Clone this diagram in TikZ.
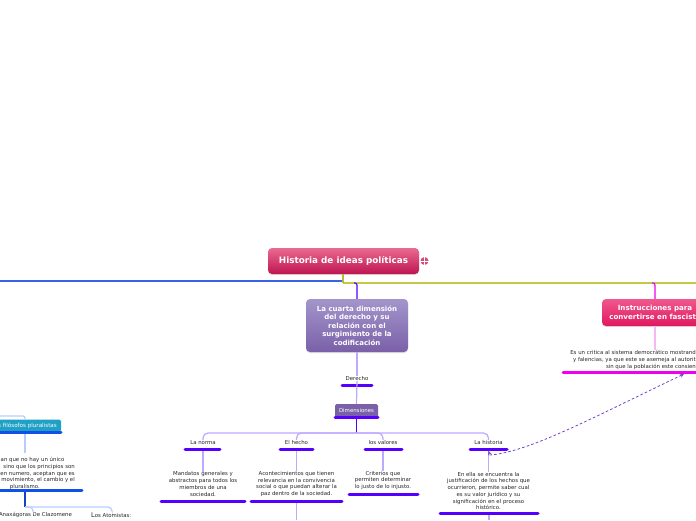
\documentclass[tikz,border=0pt]{standalone}
\usepackage{fontspec}
\setmainfont{DejaVu Sans}
\usetikzlibrary{shadows}
\definecolor{viol}{HTML}{5500FF}
\definecolor{lviol}{HTML}{BFA8FF}
\definecolor{mag}{HTML}{F000F0}
\definecolor{lmag}{HTML}{F4B8F4}
\definecolor{blu}{HTML}{1050E8}
\definecolor{lblu}{HTML}{B8CCFF}
\definecolor{rootA}{HTML}{EA6A92}
\definecolor{rootB}{HTML}{BE1450}
\definecolor{cuA}{HTML}{A395CB}
\definecolor{cuB}{HTML}{7A60A8}
\definecolor{inA}{HTML}{F0588E}
\definecolor{inB}{HTML}{E0185E}
\definecolor{leftline}{HTML}{3A62E8}
\definecolor{tanline}{HTML}{D8B860}
\definecolor{greenline}{HTML}{B0D830}
\definecolor{teal}{HTML}{1FA0C4}
\tikzset{
 x=1pt,y=-1pt,
 small/.style={font=\fontsize{5.4}{6.7}\selectfont,text=black!85,align=center,inner sep=0pt},
 bar/.style={line width=3pt,line cap=round,viol},
 conn/.style={line width=1.2pt,lviol},
 boxed/.style={rounded corners=4pt,text=white,align=center,inner sep=0pt,drop shadow={opacity=.25,shadow xshift=0pt,shadow yshift=-1pt}},
}
\begin{document}
\begin{tikzpicture}
\useasboundingbox (0,0) rectangle (696,520);
\clip (0,0) rectangle (696,520);
\coordinate (hub) at (343,281);
\coordinate (leftend) at (0,281);
\coordinate (rightend) at (696,282);
\coordinate (botA) at (296.5,520);
\coordinate (botB) at (489,520);
% main nodes
\node[boxed,top color=rootA,bottom color=rootB,minimum width=151pt,minimum height=26pt,font=\bfseries\fontsize{8.8}{10}\selectfont] (root) at (343.5,261) {Historia de ideas políticas};
\node[circle,fill=rootB!75!white,minimum size=8pt,inner sep=0pt] (globe) at (424.5,261) {};
\draw[white,line width=.5pt] (globe.north) -- (globe.south) (globe.west) -- (globe.east);
\node[boxed,top color=cuA,bottom color=cuB,minimum width=102pt,minimum height=53pt,font=\bfseries\fontsize{7}{8.5}\selectfont] (cuarta) at (357,325.5) {La cuarta dimensión\\del derecho y su\\relación con el\\surgimiento de la\\codificación};
\node[boxed,top color=inA,bottom color=inB,minimum width=106pt,minimum height=27pt,font=\bfseries\fontsize{7.1}{9}\selectfont] (instr) at (655,312.5) {Instrucciones para\\convertirse en fascista};
% top level lines
\draw[line width=2pt,leftline] (hub) -- (leftend);
\draw[line width=1pt,tanline] (343,283) -- (696,283);
\draw[line width=1pt,greenline] (343,282) -- (rightend);
\draw[line width=1.2pt,greenline!70!brown] (root.south -| hub) -- (343,283);
\draw[line width=1.1pt,viol,rounded corners=2pt] (354,283) -| (cuarta.north);
\draw[line width=1.1pt,mag,rounded corners=2pt] (652,283) -| (instr.north);
% derecho
\node[small] (derecho) at (357,378.5) {Derecho};
\draw[conn] (cuarta.south) -- (derecho.north);
\draw[bar] (342,385) -- (372,385);
\node[fill=cuB,rounded corners=1.5pt,minimum width=43pt,minimum height=13pt,inner sep=0pt,font=\fontsize{5.4}{6}\selectfont,text=white] (dim) at (356.5,410.5) {Dimensiones};
\draw[conn] (derecho.south) -- (dim.north);
\draw[bar] (335,417) -- (378,417);
% branch
\coordinate (bj) at (356.5,433);
\draw[line width=1.1pt,viol] (dim.south) -- (bj);
\node[small] (norma) at (203,442.5) {La norma};
\node[small] (hecho) at (296.5,442.5) {El hecho};
\node[small] (valores) at (383,442.5) {los valores};
\node[small] (historia) at (488.5,442.5) {La historia};
\draw[conn,rounded corners=5pt] (bj) -- (203,433) -- (norma.north);
\draw[conn,rounded corners=5pt] (bj) -- (296.5,433) -- (hecho.north);
\draw[conn,rounded corners=5pt] (bj) -- (383,433) -- (valores.north);
\draw[conn,rounded corners=5pt] (bj) -- (488.5,433) -- (historia.north);
\draw[bar] (185,449) -- (220,449);
\draw[bar] (280,449) -- (313,449);
\draw[bar] (365,449) -- (402,449);
\draw[bar] (470,449) -- (507,449);
\node[small] (t1) at (203,484) {Mandatos generales y\\abstractos para todos los\\miembros de una\\sociedad.};
\node[small] (t2) at (296.5,484) {Acontecimientos que tienen\\relevancia en la convivencia\\social o que puedan alterar la\\paz dentro de la sociedad.};
\node[small] (t3) at (383,480.5) {Criterios que\\permiten determinar\\lo justo de lo injusto.};
\node[small] (t4) at (488.5,491) {En ella se encuentra la\\justificación de los hechos que\\ocurrieron, permite saber cual\\es su valor jurídico y su\\significación en el proceso\\histórico.};
\draw[conn] (norma) ++(0,8) -- (t1.north);
\draw[conn] (hecho) ++(0,8) -- (t2.north);
\draw[conn] (valores) ++(0,8) -- (t3.north);
\draw[conn] (historia) ++(0,8) -- (t4.north);
\draw[bar] (161,501) -- (245,501);
\draw[bar] (251,501) -- (342,501);
\draw[bar] (349,494) -- (418,494);
\draw[bar] (440,513) -- (538,513);
\draw[conn] (296.5,503) -- (botA);
\draw[conn] (489,515) -- (botB);
% right text
\node[small,anchor=east,align=right] (crit) at (696,360) {Es un critica al sistema democrático mostrand\\y falencias, ya que este se asemeja al autorit\\sin que la población este consien};
\draw[conn,lmag] (instr.south) -- (crit.north -| instr.south);
\draw[bar,mag] (563,372.5) -- (696,372.5);
% dashed link
\coordinate (lnkA) at (684,374);
\coordinate (lnkB) at (490,455);
\coordinate (lnkC) at (488.5,451);
\draw[violet!55!blue!75!white,dash pattern=on 2.6pt off 2.2pt,line width=.8pt,stealth-stealth] (lnkA) .. controls (600,414) and (530,452) .. (lnkB) -- (lnkC);
% left
\node[fill=teal,rounded corners=1.5pt,minimum width=64pt,minimum height=12pt,inner sep=0pt] (filo) at (29,425.5) {};
\node[small,text=white,anchor=east,font=\fontsize{5.6}{6.7}\selectfont] (filot) at (57,425.5) {s filósofos pluralistas};
\draw[bar,blu] (0,432.5) -- (61,432.5);
\draw[conn,lblu,rounded corners=2pt] (0,416) -- (25,416) -- (25,419);
\node[small,anchor=east,align=right] (plur) at (75,473.5) {an que no hay un único\hspace*{10.5pt}\\sino que los principios son\\en numero, aceptan que es\\movimiento, el cambio y el\\pluralismo.\hspace*{35pt}};
\draw[conn,lblu] (25,434) -- (25,453);
\draw[bar,blu] (0,490.5) -- (82,490.5);
\coordinate (pj) at (25,507);
\draw[line width=1.1pt,blu!85!black] (25,492) -- (pj);
\node[small] (anax) at (35.5,515) {Anaxágoras De Clazomene};
\node[small,anchor=west] (atom) at (91,515.5) {{\fontsize{6.5}{7}\selectfont L}os Atomistas:};
\draw[conn,lblu,rounded corners=4pt] (pj) -- (33,507) -- (33,510);
\draw[conn,lblu,rounded corners=4pt] (pj) -- (112,507) -- (112,510);
\end{tikzpicture}
\end{document}
